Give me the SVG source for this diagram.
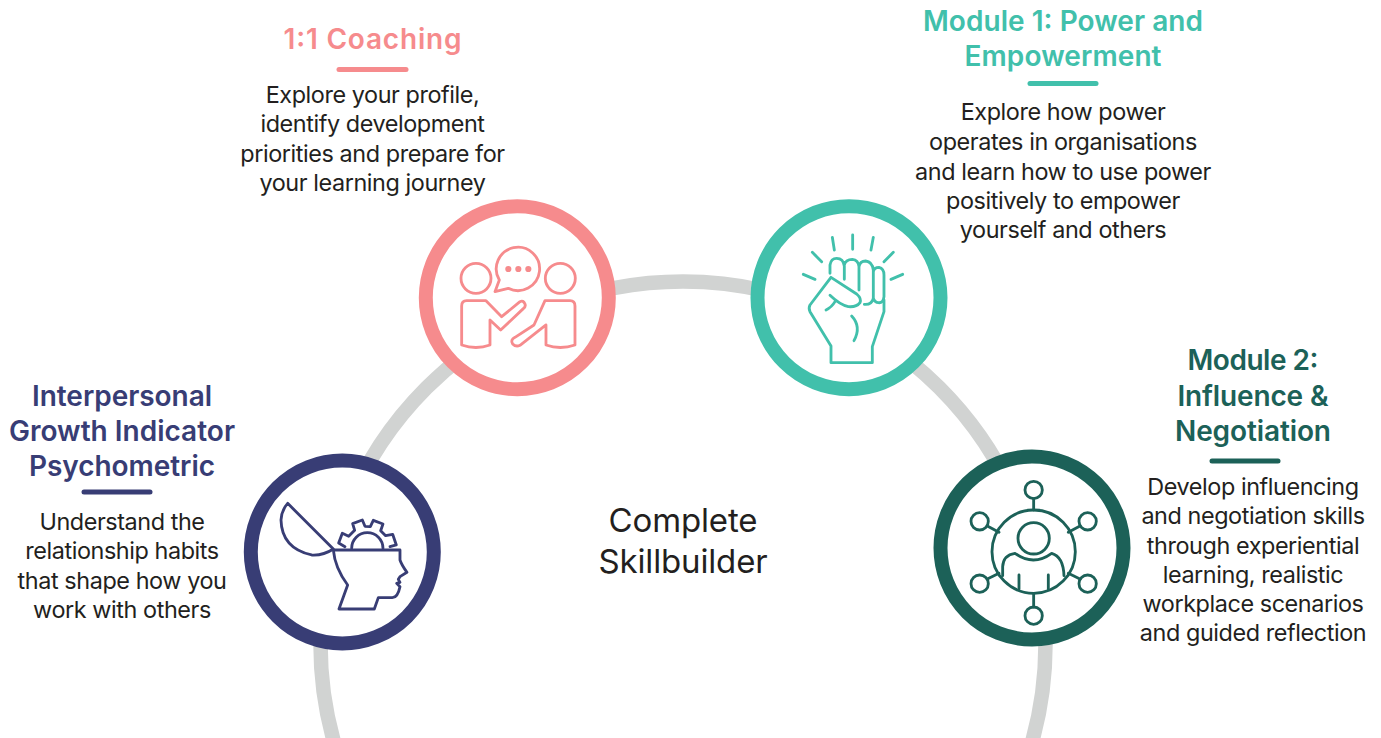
<svg xmlns="http://www.w3.org/2000/svg" width="1381" height="738" viewBox="0 0 1381 738">
<style>
text{font-family:Inter,"Liberation Sans",sans-serif;text-anchor:middle}
.t{font-size:28px;font-weight:600}
.b{font-size:23.4px;fill:#231f20;letter-spacing:-.42px}
.c{font-size:33px;fill:#231f20;letter-spacing:-.15px}
.ring{fill:#fff;stroke-width:14}
.bar{stroke-width:5;stroke-linecap:round}
.ic{fill:none;stroke-width:8.5;stroke-linecap:round;stroke-linejoin:round}
.pink{stroke:#f68b8d}.teal{stroke:#41c0ab}.navy{stroke:#383d75}.green{stroke:#1c6158}
</style>
<g id="connectors"><circle cx="683" cy="644" r="362.5" fill="none" stroke="#d1d3d2" stroke-width="14.5"/></g>
<g id="coaching">
<circle class="ring pink" cx="517.3" cy="297.7" r="91.5"/>
<g class="ic pink" transform="translate(410 190) scale(.3333)">
<circle cx="198" cy="265" r="45"/><circle cx="451" cy="265" r="45"/>
<path d="M268 270A65 65 0 1 1 295 295L255 305Z"/>
<circle cx="295" cy="237" r="5" fill="#f68b8d"/><circle cx="325" cy="237" r="5" fill="#f68b8d"/><circle cx="355" cy="237" r="5" fill="#f68b8d"/>
<path d="M170 332H228L275 380L330 335Q340 330 345 342Q348 350 340 356L272 420L240 390V465Q198 480 155 465V348Q155 332 170 332Z"/>
<path d="M405 332H480Q495 332 495 348V465Q451 480 408 465V405L330 466Q318 472 308 462Q300 450 315 442L372 405Z"/>
</g>
<text class="t" x="372.5" y="49" fill="#f68b8d" textLength="178">1:1 Coaching</text>
<line class="bar pink" x1="339" y1="69.500" x2="406" y2="69.500"/>
<text class="b" x="372.500" y="103">Explore your profile,</text>
<text class="b" x="372.500" y="132">identify development</text>
<text class="b" x="372.500" y="162">priorities and prepare for</text>
<text class="b" x="372.500" y="191">your learning journey</text>
</g>
<g id="module1">
<circle class="ring teal" cx="849" cy="297.700" r="91.500"/>
<g class="ic teal" transform="translate(745 190) scale(.3333)">
<path d="M262 142L268 180M323 135V178M385 142L378 180M202 187L230 215M445 187L417 215M175 253L210 268M473 253L438 268"/>
<path d="M255 250V225Q258 205 275 205Q295 205 298 228V268M298 225Q302 208 322 208Q340 210 342 230V300M342 230Q345 213 362 213Q382 215 385 240V325Q380 345 358 343M385 245Q388 232 402 232Q417 235 417 255V320Q415 340 400 338Q390 338 385 325"/>
<path d="M270 335Q260 352 243 360M255 316Q285 345 310 350Q335 352 345 338Q350 325 335 312L258 262L195 345Q190 355 195 365L258 468V518H382V470L417 365V330M320 378Q350 410 327 452"/>
</g>
<text class="t" x="1063" y="31" fill="#41c0ab" textLength="280">Module 1: Power and</text>
<text class="t" x="1063" y="66" fill="#41c0ab" textLength="197">Empowerment</text>
<line class="bar teal" x1="1030" y1="83.500" x2="1096" y2="83.500"/>
<text class="b" x="1063" y="120">Explore how power</text>
<text class="b" x="1063" y="150">operates in organisations</text>
<text class="b" x="1063" y="180">and learn how to use power</text>
<text class="b" x="1063" y="209">positively to empower</text>
<text class="b" x="1063" y="238">yourself and others</text>
</g>
<g id="psychometric">
<circle class="ring navy" cx="342.300" cy="552" r="91.500"/>
<g class="ic navy" transform="translate(235 445) scale(.3333)">
<path d="M158 175L295 312Q265 332 230 330Q140 310 138 225Q140 195 158 175Z"/>
<path d="M295 315H495V345Q500 360 516 382L495 395L490 403L495 412L485 415L495 425Q488 460 470 458H430L418 492H312L338 420Q300 370 295 315Z"/>
<path d="M350 310A47 47 0 0 1 444 310M330 305L311 294L322 265L341 274L359 256L353 236L382 225L390 244L406 245L415 226L444 237L437 257L452 272L473 268L484 300L465 305"/>
</g>
<text class="t" x="122" y="406" fill="#383d75" textLength="180">Interpersonal</text>
<text class="t" x="122" y="441" fill="#383d75" textLength="226">Growth Indicator</text>
<text class="t" x="122" y="476" fill="#383d75" textLength="186">Psychometric</text>
<line class="bar navy" x1="84" y1="492" x2="150" y2="492"/>
<text class="b" x="122" y="530">Understand the</text>
<text class="b" x="122" y="559">relationship habits</text>
<text class="b" x="122" y="589">that shape how you</text>
<text class="b" x="122" y="618">work with others</text>
</g>
<g id="module2">
<circle class="ring green" cx="1032" cy="548" r="91.500"/>
<g class="ic green" transform="translate(930 445) scale(.3333)">
<circle cx="311" cy="320" r="125"/><circle cx="311" cy="280" r="47"/>
<path d="M218 392V365Q220 330 255 325Q310 365 365 325Q400 335 402 392M267 390V432M355 390V432"/>
<circle cx="311" cy="135" r="26"/><circle cx="311" cy="512" r="26"/><circle cx="149" cy="229" r="26"/><circle cx="473" cy="229" r="26"/><circle cx="149" cy="416" r="26"/><circle cx="473" cy="416" r="26"/>
<path d="M311 161V195M311 445V486M172 243L207 262M450 243L415 262M172 402L207 385M450 402L415 385"/>
</g>
<text class="t" x="1253" y="370" fill="#1c6158" textLength="131">Module 2:</text>
<text class="t" x="1253" y="406" fill="#1c6158" textLength="151">Influence &amp;</text>
<text class="t" x="1253" y="441" fill="#1c6158" textLength="156">Negotiation</text>
<line class="bar green" x1="1212" y1="461" x2="1278" y2="461"/>
<text class="b" x="1253" y="495">Develop influencing</text>
<text class="b" x="1253" y="524">and negotiation skills</text>
<text class="b" x="1253" y="554">through experiential</text>
<text class="b" x="1253" y="583">learning, realistic</text>
<text class="b" x="1253" y="612">workplace scenarios</text>
<text class="b" x="1253" y="641">and guided reflection</text>
</g>
<g id="centre">
<text class="c" x="683" y="532">Complete</text>
<text class="c" x="683" y="573">Skillbuilder</text>
</g>
</svg>
